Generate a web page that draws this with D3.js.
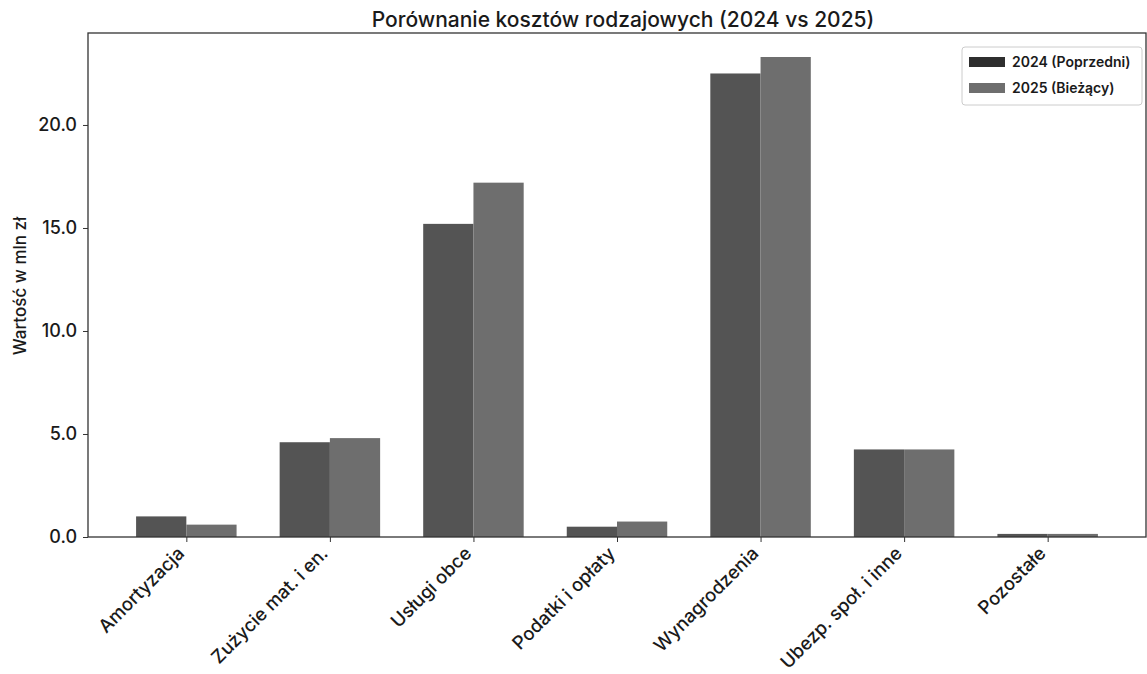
<!DOCTYPE html>
<html>
<head>
<meta charset="utf-8">
<script src="https://cdn.jsdelivr.net/npm/d3@7"></script>
<style>
  body { margin: 0; background: #fff; }
  text { font-family: Inter, "Open Sans", sans-serif; fill: #1a1a1a; }
</style>
</head>
<body>
<div id="chart"></div>
<script>
// koszty rodzajowe, mln zl
const categories = ["Amortyzacja", "Zużycie mat. i en.", "Usługi obce", "Podatki i opłaty", "Wynagrodzenia", "Ubezp. społ. i inne", "Pozostałe"];
const values2024 = [1.0, 4.6, 15.2, 0.5, 22.5, 4.25, 0.15];
const values2025 = [0.6, 4.8, 17.2, 0.75, 23.3, 4.25, 0.15];
const seriesNames = ["2024 (Poprzedni)", "2025 (Bieżący)"];
const yTicks = [0, 5, 10, 15, 20];

const W = 1147, H = 674;
const m = { top: 33, left: 88, right: 1, bottom: 137 };
const width = W - m.left - m.right;
const height = H - m.top - m.bottom;
const colors = ["#545454", "#6e6e6e"];
const barW = 0.35;

const svg = d3.select("#chart").append("svg")
  .attr("width", W)
  .attr("height", H);

const g = svg.append("g")
  .attr("transform", `translate(${m.left},${m.top})`);

// linear x like matplotlib: bars at i -/+ width/2, 5% margin
const span = (categories.length - 1) + 2 * barW;
const pad = span * 0.05;
const xScale = d3.scaleLinear()
  .domain([-barW - pad, categories.length - 1 + barW + pad])
  .range([0, width]);

const yMax = d3.max(values2025.concat(values2024)) * 1.05;
const yScale = d3.scaleLinear()
  .domain([0, yMax])
  .range([height, 0]);

const bw = xScale(barW) - xScale(0);

// bars
[values2024, values2025].forEach((vals, s) => {
  g.append("g")
    .selectAll("rect")
    .data(vals)
    .enter()
    .append("rect")
    .attr("x", (d, i) => xScale(i) + (s === 0 ? -bw : 0))
    .attr("y", d => yScale(d))
    .attr("width", bw)
    .attr("height", d => yScale(0) - yScale(d))
    .attr("fill", colors[s]);
});

// axes
const xAxis = d3.axisBottom(xScale)
  .tickValues(d3.range(categories.length))
  .tickFormat(i => categories[i])
  .tickSize(5)
  .tickSizeOuter(0);

const yAxis = d3.axisLeft(yScale)
  .tickValues(yTicks)
  .tickFormat(d3.format(".1f"))
  .tickSize(5)
  .tickSizeOuter(0);

const gx = g.append("g")
  .attr("transform", `translate(0,${height})`)
  .call(xAxis);

gx.selectAll("text")
  .style("font-size", "18.5px")
  .style("font-weight", "500")
  .attr("text-anchor", "end")
  .attr("dx", "0")
  .attr("dy", "0")
  .attr("transform", "translate(-7,12) rotate(-45)");

const gy = g.append("g").call(yAxis);
gy.selectAll("text")
  .style("font-size", "18px")
  .style("font-weight", "500")
  .attr("dx", "-3");

g.selectAll(".domain").remove();
g.selectAll(".tick line").attr("stroke", "#333");

// frame
g.append("rect")
  .attr("width", width)
  .attr("height", height)
  .attr("fill", "none")
  .attr("stroke", "#333")
  .attr("stroke-width", 1.3);

// labels
svg.append("text")
  .attr("x", m.left + width / 2 + 6)
  .attr("y", 27)
  .attr("text-anchor", "middle")
  .style("font-size", "21px")
  .style("font-weight", "500")
  .text("Porównanie kosztów rodzajowych (2024 vs 2025)");

svg.append("text")
  .attr("transform", `translate(26,286) rotate(-90)`)
  .attr("text-anchor", "middle")
  .style("font-size", "17px")
  .style("font-weight", "500")
  .text("Wartość w mln zł");

// legend
const lg = svg.append("g").attr("transform", "translate(962,47)");
lg.append("rect")
  .attr("width", 180)
  .attr("height", 58)
  .attr("rx", 3)
  .attr("fill", "#fff")
  .attr("stroke", "#ccc");

seriesNames.forEach((name, s) => {
  lg.append("rect")
    .attr("x", 7)
    .attr("y", 10 + s * 26)
    .attr("width", 36)
    .attr("height", 10)
    .attr("fill", s === 0 ? "#2e2e2e" : colors[1]);
  lg.append("text")
    .attr("x", 50)
    .attr("y", 20 + s * 26)
    .style("font-size", "14px")
    .style("font-weight", "600")
    .text(name);
});
</script>
</body>
</html>
